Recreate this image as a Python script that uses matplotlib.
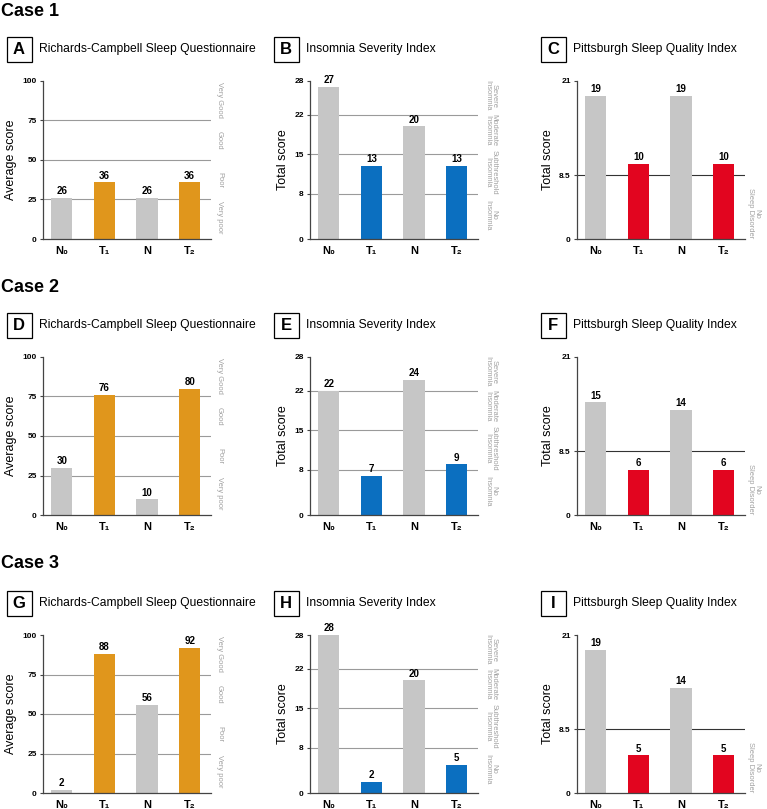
import matplotlib
matplotlib.use("Agg")
import matplotlib.pyplot as plt
import matplotlib.transforms as mtransforms
from matplotlib.patches import Rectangle

plt.rcParams["font.family"] = ["Liberation Sans", "DejaVu Sans"]

W, H = 767, 809

# data
groups = ["N\u2080", "T\u2081", "N", "T\u2082"]
cases = ["Case 1", "Case 2", "Case 3"]
rcsq = [[26, 36, 26, 36], [30, 76, 10, 80], [2, 88, 56, 92]]
isi = [[27, 13, 20, 13], [22, 7, 24, 9], [28, 2, 20, 5]]
psqi = [[19, 10, 19, 10], [15, 6, 14, 6], [19, 5, 14, 5]]
letters = ["A", "B", "C", "D", "E", "F", "G", "H", "I"]

titles = ["Richards-Campbell Sleep Questionnaire", "Insomnia Severity Index",
          "Pittsburgh Sleep Quality Index"]
ylabels = ["Average score", "Total score", "Total score"]
yticks = [[0, 25, 50, 75, 100], [0, 8, 15, 22, 28], [0, 8.5, 21]]
ytick_text = [["0", "25", "50", "75", "100"], ["0", "8", "15", "22", "28"], ["0", "8.5", "21"]]
ylims = [100, 28, 21]
cut_lines = [[25, 50, 75], [8, 15, 22], [8.5]]
zone_names = [["Very poor", "Poor", "Good", "Very Good"],
              ["No\nInsomnia", "Subthreshold\nInsomnia", "Moderate\nInsomnia", "Severe\nInsomnia"],
              ["No\nSleep Disorder"]]
zone_mid = [[13.5, 37.5, 62.5, 88], [4.2, 11.9, 19.3, 25.4], [3.4]]
treat_colors = ["#e0961c", "#0b6fc0", "#e2051f"]
grey = "#c6c6c6"

lefts = [43, 310, 577]
ax_w, ax_h = 168, 158
tops = [81, 357, 635]
case_y = [12, 287, 563]
label_off = [1.05, 1.075, 1.05]

fig = plt.figure(figsize=(W / 100, H / 100), dpi=100)

for r in range(3):
    fig.text(1 / W, 1 - case_y[r] / H, cases[r], fontsize=13, fontweight="bold",
             va="center", ha="left")
    vals_row = [rcsq[r], isi[r], psqi[r]]
    top = tops[r]
    for c in range(3):
        ax = fig.add_axes([lefts[c] / W, 1 - (top + ax_h) / H, ax_w / W, ax_h / H])
        vals = vals_row[c]
        cols = [grey, treat_colors[c], grey, treat_colors[c]]
        x = list(range(len(groups)))
        ax.bar(x, vals, width=0.5, color=cols, zorder=2)
        for xi, v in zip(x, vals):
            ax.text(xi, v + ylims[c] * 0.01, str(v), ha="center", va="bottom",
                    fontsize=7, fontweight="bold")
        line_col = "#333333" if c == 2 else "#9a9a9a"
        for yl in cut_lines[c]:
            ax.axhline(yl, color=line_col, lw=0.8, zorder=1)
        ax.set_xlim(-0.44, 3.5)
        ax.set_ylim(0, ylims[c])
        ax.set_yticks(yticks[c])
        ax.set_yticklabels(ytick_text[c], fontsize=6, fontweight="bold")
        ax.set_xticks(x)
        ax.set_xticklabels(groups, fontsize=8, fontweight="bold")
        ax.tick_params(axis="x", length=0, pad=5)
        ax.tick_params(axis="y", length=2.5, width=0.8, pad=2, color="#444444")
        for s in ["top", "right"]:
            ax.spines[s].set_visible(False)
        for s in ["left", "bottom"]:
            ax.spines[s].set_color("#444444")
            ax.spines[s].set_linewidth(0.9)
        ax.set_ylabel(ylabels[c], fontsize=9, labelpad=4)

        trans = mtransforms.blended_transform_factory(ax.transAxes, ax.transData)
        for name, ym in zip(zone_names[c], zone_mid[c]):
            ax.text(label_off[c], ym, name, transform=trans, rotation=270, ha="center",
                    va="center", fontsize=5.4, color="#a0a0a0", linespacing=0.85)

        # panel letter box and title
        cx, cy = lefts[c] - 24, top - 32
        fig.patches.append(Rectangle(((cx - 12.5) / W, 1 - (cy + 12.5) / H), 25 / W, 25 / H,
                                     transform=fig.transFigure, fc="white", ec="black",
                                     lw=0.9))
        fig.text(cx / W, 1 - cy / H, letters[3 * r + c], fontsize=12, fontweight="bold",
                 ha="center", va="center")
        fig.text((cx + 20) / W, 1 - cy / H, titles[c], fontsize=8.7,
                 ha="left", va="center")

fig.savefig("out.png", dpi=100)
